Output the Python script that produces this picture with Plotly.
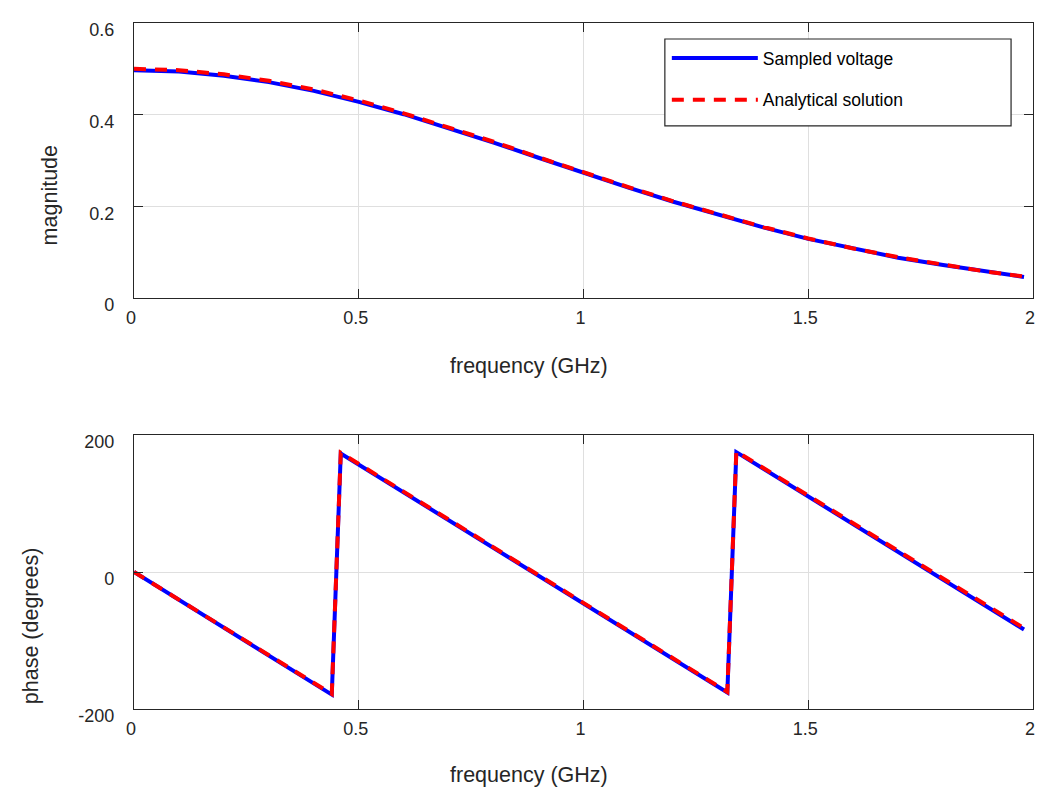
import plotly.graph_objects as go
from plotly.subplots import make_subplots

# ---- data ----
freq_mag = [0.0, 0.1, 0.2, 0.3, 0.4, 0.5, 0.6, 0.7, 0.8, 0.9, 1.0,
            1.1, 1.2, 1.3, 1.4, 1.5, 1.6, 1.7, 1.8, 1.9, 1.98]
mag_sampled = [0.497, 0.494, 0.485, 0.471, 0.452, 0.428, 0.401, 0.371, 0.339, 0.306, 0.273,
               0.241, 0.210, 0.181, 0.154, 0.129, 0.108, 0.088, 0.072, 0.057, 0.046]
mag_analytical = [0.500, 0.497, 0.488, 0.474, 0.455, 0.431, 0.403, 0.373, 0.341, 0.307, 0.274,
                  0.242, 0.211, 0.182, 0.155, 0.130, 0.108, 0.089, 0.072, 0.057, 0.047]

freq_phase = [0.0, 0.44, 0.46, 1.32, 1.34, 1.98]
phase_sampled = [0.0, -179, 173, -176, 175, -84]
phase_analytical = [0.0, -178, 174, -175, 176, -82]

x_ticks = [0, 0.5, 1, 1.5, 2]
x_tick_text = ["0", "0.5", "1", "1.5", "2"]
mag_ticks = [0, 0.2, 0.4, 0.6]
mag_tick_text = ["0", "0.2", "0.4", "0.6"]
phase_ticks = [-200, 0, 200]
phase_tick_text = ["-200", "0", "200"]

names = ["Sampled voltage", "Analytical solution"]

# ---- style ----
FONT = "Liberation Sans, Arial, Helvetica, sans-serif"
AX = "#262626"
GRID = "#dfdfdf"
BLUE = "#0000ff"
RED = "#ff0000"
DASH = "12px,9px"

fig = make_subplots(rows=2, cols=1, vertical_spacing=0.2)

fig.add_trace(go.Scatter(x=freq_mag, y=mag_sampled, mode="lines", name=names[0],
                         line=dict(color=BLUE, width=4), legendgroup="a"), row=1, col=1)
fig.add_trace(go.Scatter(x=freq_mag, y=mag_analytical, mode="lines", name=names[1],
                         line=dict(color=RED, width=4, dash=DASH), legendgroup="b"), row=1, col=1)
fig.add_trace(go.Scatter(x=freq_phase, y=phase_sampled, mode="lines", showlegend=False,
                         line=dict(color=BLUE, width=4)), row=2, col=1)
fig.add_trace(go.Scatter(x=freq_phase, y=phase_analytical, mode="lines", showlegend=False,
                         line=dict(color=RED, width=4, dash=DASH)), row=2, col=1)

axis_common = dict(
    showline=True, linecolor=AX, linewidth=1.3, mirror="ticks",
    ticks="inside", ticklen=9, tickwidth=1.3, tickcolor=AX,
    showgrid=True, gridcolor=GRID, gridwidth=1, zeroline=False,
    tickfont=dict(family=FONT, size=18, color=AX),
)

for r in (1, 2):
    fig.update_xaxes(range=[0, 2], tickvals=x_ticks, ticktext=x_tick_text,
                     ticklabelstandoff=3, ticklabelshift=-3,
                     row=r, col=1, **axis_common)
fig.update_yaxes(range=[0, 0.6], tickvals=mag_ticks, ticktext=mag_tick_text,
                 ticklabelstandoff=15, ticklabelshift=7,
                 row=1, col=1, **axis_common)
fig.update_yaxes(range=[-200, 200], tickvals=phase_ticks, ticktext=phase_tick_text,
                 ticklabelstandoff=15, ticklabelshift=7,
                 row=2, col=1, **axis_common)

TITLE_FONT = dict(family=FONT, size=21.5, color=AX)

fig.update_layout(
    width=1045, height=791,
    margin=dict(l=134, r=10, t=23, b=82),
    paper_bgcolor="white", plot_bgcolor="white",
    font=dict(family=FONT, color=AX),
    xaxis=dict(domain=[0, 1]), yaxis=dict(domain=[0.5991, 1.0]),
    xaxis2=dict(domain=[0, 1]), yaxis2=dict(domain=[0.0, 0.3994]),
    legend=dict(
        x=0.5927, xanchor="left", y=0.9752, yanchor="top",
        bgcolor="rgba(0,0,0,0)", borderwidth=0,
        font=dict(family=FONT, size=17.5, color="#000000"),
        itemwidth=86, traceorder="grouped", tracegroupgap=16,
    ),
    shapes=[
        dict(type="rect", xref="paper", yref="paper",
             x0=0.5905, x1=0.9756, y0=0.8499, y1=0.9767,
             line=dict(color=AX, width=1.2), fillcolor="white", layer="above"),
    ],
    annotations=[
        dict(text="frequency (GHz)", xref="paper", yref="paper", x=0.4395, y=0.5,
             xanchor="center", yanchor="middle", showarrow=False, font=TITLE_FONT),
        dict(text="frequency (GHz)", xref="paper", yref="paper", x=0.4395, y=-0.0962,
             xanchor="center", yanchor="middle", showarrow=False, font=TITLE_FONT),
        dict(text="magnitude", xref="paper", yref="paper", x=-0.0932, y=0.749,
             xanchor="center", yanchor="middle", showarrow=False, textangle=-90,
             font=TITLE_FONT),
        dict(text="phase (degrees)", xref="paper", yref="paper", x=-0.1143, y=0.121,
             xanchor="center", yanchor="middle", showarrow=False, textangle=-90,
             font=TITLE_FONT),
    ],
)

fig.write_html("out.html", config={"displayModeBar": False},
               post_script="document.body.style.margin='0px';")
